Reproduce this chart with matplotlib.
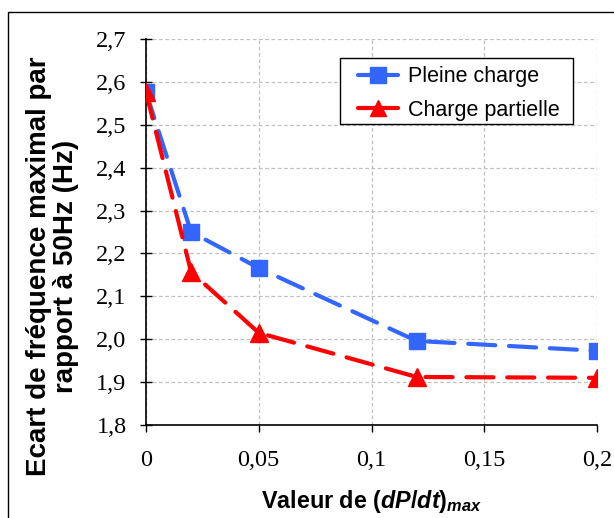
import matplotlib
matplotlib.use("Agg")
import matplotlib.pyplot as plt
from matplotlib.patches import Rectangle
from matplotlib.lines import Line2D

# data
dpdt = [0, 0.02, 0.05, 0.12, 0.2]
pleine = [2.576, 2.250, 2.166, 1.996, 1.973]
partielle = [2.576, 2.157, 2.015, 1.912, 1.910]

xticks = [0, 0.05, 0.1, 0.15, 0.2]
xlabels = ['0', '0,05', '0,1', '0,15', '0,2']
yticks = [1.8, 1.9, 2.0, 2.1, 2.2, 2.3, 2.4, 2.5, 2.6, 2.7]
ylabels = ['1,8', '1,9', '2,0', '2,1', '2,2', '2,3', '2,4', '2,5', '2,6', '2,7']

blue = '#3366FF'
red = '#FF0000'

plt.rcParams['mathtext.fontset'] = 'custom'
plt.rcParams['mathtext.rm'] = 'Liberation Sans:bold'
plt.rcParams['mathtext.it'] = 'Liberation Sans:italic:bold'
plt.rcParams['mathtext.bf'] = 'Liberation Sans:bold'

fig = plt.figure(figsize=(6.14, 5.18), dpi=100)
ax = fig.add_axes([146/614, 1-425/518, (597-146)/614, (425-39)/518])

# outer chart frame
fig.patches.append(Rectangle((8/614, -0.1), 1.2, 1-12/518+0.1, transform=fig.transFigure,
                             fill=False, edgecolor='black', lw=1.0))

ax.plot(dpdt, pleine, color=blue, lw=3, dashes=(6.5, 3.3), dash_capstyle='round',
        marker='s', markersize=11, markerfacecolor=blue, markeredgecolor=blue, zorder=3)
ax.plot(dpdt, partielle, color=red, lw=3, dashes=(6.5, 3.3), dash_capstyle='round',
        marker='^', markersize=13, markerfacecolor=red, markeredgecolor=red, zorder=4)

ax.set_xlim(0, 0.2)
ax.set_ylim(1.8, 2.7)
ax.set_xticks(xticks)
ax.set_xticklabels(xlabels)
ax.set_yticks(yticks)
ax.set_yticklabels(ylabels)
for lab in ax.get_xticklabels() + ax.get_yticklabels():
    lab.set_family('Liberation Serif')
    lab.set_fontsize(17.5)
ax.tick_params(axis='y', direction='inout', length=8, width=1, pad=10)
ax.tick_params(axis='x', direction='out', length=5, width=1, pad=13)

ax.grid(True, color='#C0C0C0', linestyle=(0, (3, 2)), lw=0.9)
ax.set_axisbelow(True)
for s in ['top', 'right']:
    ax.spines[s].set_visible(False)
ax.spines['left'].set_linewidth(1.2)
ax.spines['bottom'].set_linewidth(1.2)
ax.patch.set_alpha(0)

ax.set_ylabel('Ecart de fréquence maximal par\nrapport à 50Hz (Hz)', family='Liberation Sans',
              fontweight='bold', fontsize=20, linespacing=1.08)
ax.yaxis.set_label_coords(-0.148, 0.41)
ax.set_xlabel(r'Valeur de ($dP/dt$)$_{max}$', family='Liberation Sans', fontweight='bold',
              fontsize=16.8, labelpad=12)

# legend box (white, black border) drawn separately so its padding matches
ax.add_patch(Rectangle((0.430, 0.780), 0.517, 0.171, transform=ax.transAxes,
                       facecolor='white', edgecolor='black', lw=1.0, zorder=5))
handles = [Line2D([], [], color=blue, lw=3, marker='s', markersize=12, solid_capstyle='round'),
           Line2D([], [], color=red, lw=3, marker='^', markersize=12, solid_capstyle='round')]
leg = ax.legend(handles, ['Pleine charge', 'Charge partielle'], loc='upper left',
                bbox_to_anchor=((358-146)/451, 0.929), borderaxespad=0,
                prop={'family': 'Liberation Sans', 'size': 15.5}, frameon=False,
                handlelength=1.85, borderpad=0, labelspacing=0.58, handletextpad=0.45)
leg.set_zorder(6)

fig.savefig('out.png', dpi=100)
